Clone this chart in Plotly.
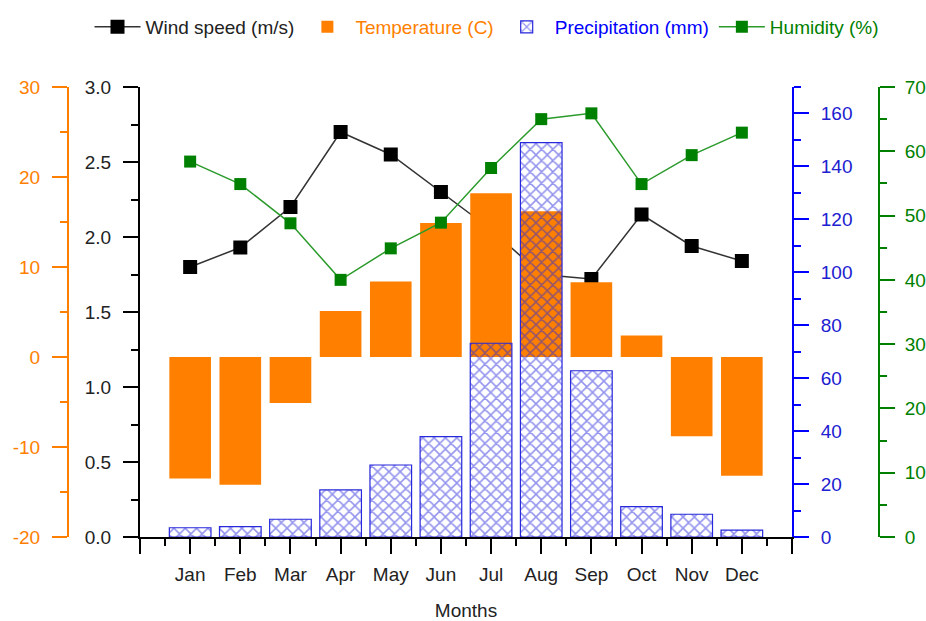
import plotly.graph_objects as go

months = ["Jan", "Feb", "Mar", "Apr", "May", "Jun", "Jul", "Aug", "Sep", "Oct", "Nov", "Dec"]
month_pos = [1, 2, 3, 4, 5, 6, 7, 8, 9, 10, 11, 12]
wind_speed = [1.80, 1.93, 2.20, 2.70, 2.55, 2.30, 2.05, 1.75, 1.72, 2.15, 1.94, 1.84]
temperature = [-13.5, -14.2, -5.1, 5.1, 8.4, 14.9, 18.2, 16.2, 8.3, 2.4, -8.8, -13.2]
precipitation = [3.5, 3.9, 6.7, 17.8, 27.2, 37.9, 73.2, 149.0, 62.8, 11.5, 8.6, 2.6]
humidity = [58.4, 54.9, 48.8, 40.0, 44.9, 48.9, 57.4, 65.0, 65.9, 54.9, 59.4, 62.9]
temp_ticks = [-20, -10, 0, 10, 20, 30]
temp_tick_labels = ["-20", "-10", "0", "10", "20", "30"]

ORANGE = "#FF8000"
BLUE = "#0000FF"
GREEN = "#008000"
FONT = "Liberation Sans, Arial, sans-serif"
FS = 19

W, H = 926, 621
TOP, BOT = 87, 537
ML, MR, MT, MB = 4, 2, TOP, H - BOT
PW = W - ML - MR
PH = BOT - TOP


def px(x):
    return (x - ML) / PW


def py(y):
    return (BOT - y) / PH


fig = go.Figure()

fig.add_trace(go.Scatter(
    x=month_pos, y=wind_speed, name="Wind speed (m/s)", mode="lines+markers",
    line=dict(color="#333333", width=1.5),
    marker=dict(symbol="square", size=14, color="black"),
    yaxis="y", xaxis="x",
))
fig.add_trace(go.Bar(
    x=month_pos, y=temperature, name='<span style="color:#FF8000">Temperature (C)</span>',
    marker=dict(color=ORANGE, line=dict(width=0)),
    width=0.83, offset=-0.415, yaxis="y2", xaxis="x",
))
fig.add_trace(go.Bar(
    x=month_pos, y=precipitation, name='<span style="color:#0000FF">Precipitation (mm)</span>',
    marker=dict(color="rgba(0,0,0,0)", line=dict(color="rgb(40,40,220)", width=1.2),
                pattern=dict(shape="x", fgcolor="rgb(40,40,220)", bgcolor="rgba(0,0,0,0)",
                             size=8, solidity=0.35, fillmode="overlay")),
    width=0.83, offset=-0.415, yaxis="y3", xaxis="x",
))
fig.add_trace(go.Scatter(
    x=month_pos, y=humidity, name='<span style="color:#008000">Humidity (%)</span>', mode="lines+markers",
    line=dict(color="#2a9a2a", width=1.5),
    marker=dict(symbol="square", size=12, color=GREEN),
    yaxis="y4", xaxis="x",
))


def yax(color, rng, dtick, minor_dtick, **kw):
    d = dict(
        range=rng, dtick=dtick, tick0=0, showgrid=False, zeroline=False,
        showline=True, linewidth=2, linecolor=color,
        ticks="outside", ticklen=15, tickwidth=2, tickcolor=color,
        minor=dict(dtick=minor_dtick, tick0=0, ticks="outside", ticklen=7, tickwidth=2, tickcolor=color),
        tickfont=dict(color=color, size=FS, family=FONT),
        ticklabelstandoff=8, automargin=False,
    )
    d.update(kw)
    return d


fig.update_layout(
    width=W, height=H,
    margin=dict(l=ML, r=MR, t=MT, b=MB, autoexpand=False),
    paper_bgcolor="white", plot_bgcolor="white",
    font=dict(family=FONT, size=FS, color="#222222"),
    barmode="overlay",
    showlegend=True,
    legend=dict(orientation="h", x=px(487), xanchor="center", y=py(27), yanchor="middle",
                font=dict(size=FS, family=FONT), bgcolor="rgba(0,0,0,0)", itemwidth=46,
                tracegroupgap=0),
    xaxis=dict(
        domain=[px(140), px(792)], range=[0, 13],
        tickmode="array", tickvals=list(range(14)), ticktext=[""] + months + [""],
        ticks="outside", ticklen=15, tickwidth=2, tickcolor="black",
        minor=dict(tickmode="array", tickvals=[i + 0.5 for i in range(13)], ticks="outside",
                   ticklen=7, tickwidth=2, tickcolor="black"),
        showline=True, linewidth=2, linecolor="black", showgrid=False, zeroline=False,
        tickfont=dict(size=FS, color="#222222"), ticklabelstandoff=4, automargin=False,
        title=dict(text="Months", standoff=20, font=dict(size=FS, color="#222222")),
    ),
    yaxis=yax("black", [0, 3], 0.5, 0.25, tickformat=".1f", side="left", anchor="x",
              tickfont=dict(color="#222222", size=FS, family=FONT)),
    yaxis2=yax(ORANGE, [-20, 30], 10, 5, overlaying="y", anchor="free", position=px(68), side="left",
               tickmode="array", tickvals=temp_ticks, ticktext=temp_tick_labels),
    yaxis3=yax(BLUE, [0, 170], 20, 10, overlaying="y", anchor="x", side="right",
               tickfont=dict(color="#2020d0", size=FS, family=FONT)),
    yaxis4=yax(GREEN, [0, 70], 10, 5, overlaying="y", anchor="free", position=px(879), side="right",
               ticklabelstandoff=6),
)

fig.write_html(
    "out.html",
    config={"displayModeBar": False},
    post_script="document.body.style.margin='0';document.body.style.overflow='hidden';",
)
